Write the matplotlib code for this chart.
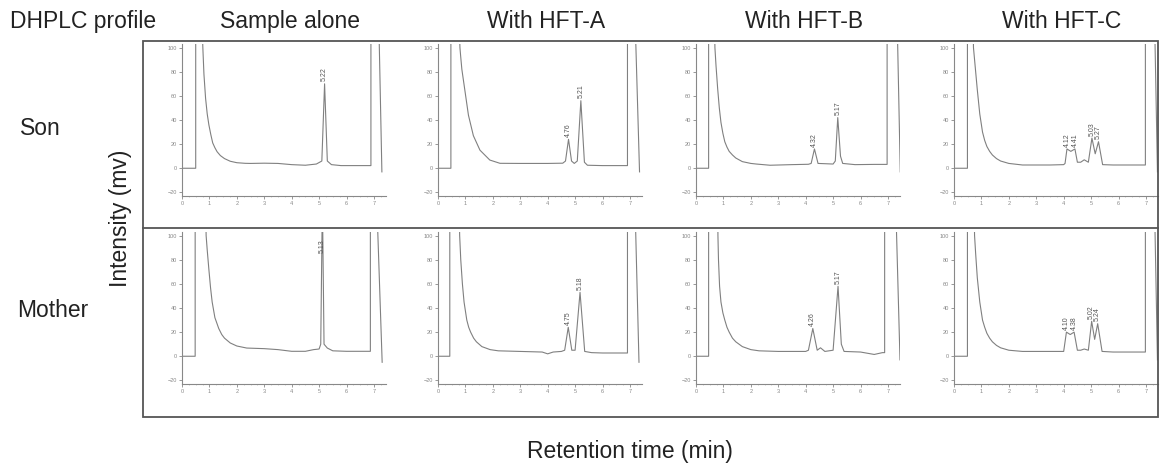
import numpy as np
import matplotlib.pyplot as plt
from matplotlib.lines import Line2D
from matplotlib.patches import Rectangle

plt.rcParams["font.family"] = ["Liberation Sans", "DejaVu Sans"]

W, H = 1164, 463

COLUMNS = ["Sample alone", "With HFT-A", "With HFT-B", "With HFT-C"]
ROWS = ["Son", "Mother"]
X_TICKS = [0, 1, 2, 3, 4, 5, 6, 7]
Y_TICKS = [-20, 0, 20, 40, 60, 80, 100]

# traces (time in min, intensity in mV); 130 = off scale
T_SON_ALONE = [0, 0.50, 0.50, 0.72, 0.76, 0.80, 0.86, 0.92, 0.98, 1.05, 1.12, 1.20,
               1.28, 1.40, 1.55, 1.76, 2.00, 2.30, 2.50, 3.00, 3.50, 4.00, 4.50,
               4.90, 5.10, 5.20, 5.30, 5.45, 5.80, 6.40, 6.89, 6.89, 7.17, 7.29]
MV_SON_ALONE = [0, 0, 130, 130, 100, 78, 58, 45, 36, 28, 21, 17,
                13.7, 10.5, 8, 5.8, 4.6, 4.1, 4.0, 4.2, 4.0, 3.0, 2.5,
                3.5, 6, 70, 6, 3, 2.2, 2.2, 2.2, 130, 130, -3]
PK_SON_ALONE = [5.20]
LB_SON_ALONE = ["5.22"]

T_SON_A = [0, 0.47, 0.47, 0.76, 0.80, 0.83, 0.87, 0.99, 1.11, 1.29, 1.53, 1.89,
           2.26, 3.0, 4.0, 4.55, 4.65, 4.76, 4.87, 4.97, 5.08, 5.21, 5.34, 5.45,
           6.0, 6.91, 6.91, 7.18, 7.35]
MV_SON_A = [0, 0, 130, 130, 100, 92, 82, 63, 44, 27, 15, 6.8,
            4.1, 4.0, 4.0, 4.2, 6, 24, 6, 4, 6, 56, 5, 2.5,
            2.2, 2.2, 130, 130, -3]
PK_SON_A = [4.76, 5.21]
LB_SON_A = ["4.76", "5.21"]

T_SON_B = [0, 0.46, 0.46, 0.67, 0.69, 0.73, 0.79, 0.85, 0.91, 0.98, 1.05, 1.13,
           1.21, 1.33, 1.45, 1.69, 2.0, 2.2, 2.7, 3.5, 4.1, 4.2, 4.32, 4.45,
           5.0, 5.08, 5.17, 5.27, 5.35, 5.8, 6.5, 6.97, 6.97, 7.33, 7.45]
MV_SON_B = [0, 0, 130, 130, 100, 85, 66, 50, 38, 29, 22, 17.5,
            14, 11, 8.5, 5.5, 4, 3.5, 2.5, 3, 3.3, 4, 16, 4,
            3.5, 6, 42, 10, 4, 3, 3.2, 3.2, 130, 130, -3]
PK_SON_B = [4.32, 5.17]
LB_SON_B = ["4.32", "5.17"]

T_SON_C = [0, 0.49, 0.49, 0.69, 0.71, 0.77, 0.85, 0.94, 1.04, 1.12, 1.20, 1.30,
           1.40, 1.55, 1.70, 2.0, 2.5, 3.5, 4.0, 4.05, 4.12, 4.26, 4.41, 4.5,
           4.62, 4.75, 4.9, 5.03, 5.15, 5.27, 5.42, 5.8, 6.98, 6.98, 7.31, 7.42]
MV_SON_C = [0, 0, 130, 130, 100, 85, 65, 45, 30, 23, 18, 14,
            11, 8, 6, 4, 2.7, 2.7, 3, 4, 16, 14, 16, 5,
            5, 7, 5, 25, 12, 22, 3, 2.7, 2.7, 130, 130, -3]
PK_SON_C = [4.12, 4.41, 5.03, 5.27]
LB_SON_C = ["4.12", "4.41", "5.03", "5.27"]

T_MOM_ALONE = [0, 0.48, 0.48, 0.86, 0.88, 0.92, 0.98, 1.04, 1.10, 1.20, 1.34, 1.45,
               1.55, 1.76, 2.0, 2.36, 3.0, 3.5, 4.0, 4.5, 4.8, 5.0, 5.06, 5.12,
               5.18, 5.3, 5.5, 6.0, 6.87, 6.87, 7.1, 7.3]
MV_MOM_ALONE = [0, 0, 130, 130, 100, 88, 72, 57, 45, 32, 23, 18,
                15, 11, 8.5, 6.8, 6.3, 5.5, 4.1, 4.1, 5.5, 6, 10, 130,
                10, 6.8, 4.5, 4.1, 4.1, 130, 130, -5]
PK_MOM_ALONE = [5.13]
LB_MOM_ALONE = ["5.13"]

T_MOM_A = [0, 0.43, 0.43, 0.77, 0.79, 0.83, 0.89, 0.95, 1.05, 1.12, 1.19, 1.30,
           1.40, 1.60, 1.90, 2.2, 3.0, 3.8, 4.0, 4.2, 4.5, 4.62, 4.75, 4.88,
           5.0, 5.18, 5.35, 5.6, 6.0, 6.91, 6.91, 7.18, 7.33]
MV_MOM_A = [0, 0, 130, 130, 100, 80, 60, 45, 30, 24, 20, 15,
            12, 8, 5.5, 4.5, 4, 3.5, 2, 3.5, 4, 5, 24, 5,
            5, 53, 4, 3, 2.7, 2.7, 130, 130, -5]
PK_MOM_A = [4.75, 5.18]
LB_MOM_A = ["4.75", "5.18"]

T_MOM_B = [0, 0.46, 0.46, 0.79, 0.80, 0.82, 0.86, 0.91, 0.98, 1.05, 1.13, 1.21,
           1.33, 1.45, 1.69, 2.0, 2.3, 3.0, 4.0, 4.1, 4.26, 4.42, 4.54, 4.7,
           5.0, 5.18, 5.3, 5.4, 6.0, 6.5, 6.8, 6.88, 6.88, 7.28, 7.44]
MV_MOM_B = [0, 0, 130, 130, 100, 80, 58, 45, 36, 30, 24, 20,
            15, 12, 8, 5.5, 4.5, 4, 4, 5, 23, 5, 7, 4,
            5, 58, 10, 4, 3.5, 1.5, 3, 3, 130, 130, -3]
PK_MOM_B = [4.26, 5.18]
LB_MOM_B = ["4.26", "5.17"]

T_MOM_C = [0, 0.49, 0.49, 0.73, 0.75, 0.79, 0.85, 0.94, 1.04, 1.12, 1.20, 1.30,
           1.40, 1.55, 1.70, 2.0, 2.5, 3.5, 4.0, 4.1, 4.24, 4.38, 4.5, 4.62,
           4.75, 4.9, 5.02, 5.13, 5.24, 5.4, 5.8, 6.98, 6.98, 7.31, 7.42]
MV_MOM_C = [0, 0, 130, 130, 100, 85, 65, 45, 30, 24, 19, 15,
            12, 9, 7, 5, 4, 4, 4, 20, 18, 20, 5, 5,
            6, 5, 29, 14, 27, 4, 3.5, 3.5, 130, 130, -3]
PK_MOM_C = [4.10, 4.38, 5.02, 5.24]
LB_MOM_C = ["4.10", "4.38", "5.02", "5.24"]

PANELS = [
    [(T_SON_ALONE, MV_SON_ALONE, PK_SON_ALONE, LB_SON_ALONE),
     (T_SON_A, MV_SON_A, PK_SON_A, LB_SON_A),
     (T_SON_B, MV_SON_B, PK_SON_B, LB_SON_B),
     (T_SON_C, MV_SON_C, PK_SON_C, LB_SON_C)],
    [(T_MOM_ALONE, MV_MOM_ALONE, PK_MOM_ALONE, LB_MOM_ALONE),
     (T_MOM_A, MV_MOM_A, PK_MOM_A, LB_MOM_A),
     (T_MOM_B, MV_MOM_B, PK_MOM_B, LB_MOM_B),
     (T_MOM_C, MV_MOM_C, PK_MOM_C, LB_MOM_C)],
]

# layout in pixels
COL_LEFT = [182, 438, 696, 954]
ROW_TOP = [44, 232]
AX_W, AX_H = 204, 152
TEXT = "#222222"
GREY = "#808080"


def px_axes(fig, left, top, width, height):
    return fig.add_axes([left / W, 1 - (top + height) / H, width / W, height / H])


def fig_xy(x, y):
    return x / W, 1 - y / H


fig = plt.figure(figsize=(W / 100, H / 100), dpi=100)

for r, row in enumerate(PANELS):
    for c, (t, mv, peaks, labels) in enumerate(row):
        ax = px_axes(fig, COL_LEFT[c], ROW_TOP[r], AX_W, AX_H)
        ax.plot(t, mv, color=GREY, lw=0.8)
        ax.set_xlim(0, 7.44)
        ax.set_ylim(-23, 103)
        ax.set_xticks(X_TICKS)
        ax.set_yticks(Y_TICKS)
        ax.set_xticks(np.arange(0, 7.5, 0.25), minor=True)
        ax.tick_params(labelsize=4, colors="#888888", length=2, width=0.6, pad=1.5)
        ax.tick_params(which="minor", length=1, width=0.4, colors="#aaaaaa")
        for side in ("top", "right"):
            ax.spines[side].set_visible(False)
        for side in ("left", "bottom"):
            ax.spines[side].set_color("#888888")
            ax.spines[side].set_linewidth(0.8)
        ax.patch.set_alpha(0)
        for pk, lb in zip(peaks, labels):
            y = min(np.interp(pk, t, mv), 84) + 2
            ax.text(pk, y, lb, rotation=90, fontsize=5, color="#555555",
                    ha="center", va="bottom")

# outer frame and row divider
x0, y0 = fig_xy(143, 417)
x1, y1 = fig_xy(1158, 41)
fig.add_artist(Rectangle((x0, y0), x1 - x0, y1 - y0, transform=fig.transFigure,
                         fill=False, ec="#555555", lw=1.3))
fig.add_artist(Line2D([x0, x1], [fig_xy(0, 228)[1]] * 2, transform=fig.transFigure,
                      color="#555555", lw=1.3))

fs = 16.5
fig.text(*fig_xy(10, 28), "DHPLC profile", fontsize=fs, color=TEXT, va="baseline")
for c, name in enumerate(COLUMNS):
    fig.text(*fig_xy(COL_LEFT[c] + AX_W / 2 + 6, 28), name, fontsize=fs,
             color=TEXT, ha="center", va="baseline")
fig.text(*fig_xy(20, 135), ROWS[0], fontsize=fs, color=TEXT, va="baseline")
fig.text(*fig_xy(17, 317), ROWS[1], fontsize=fs, color=TEXT, va="baseline")
fig.text(*fig_xy(120, 218), "Intensity (mv)", fontsize=fs, color=TEXT,
         rotation=90, ha="center", va="center")
fig.text(*fig_xy(630, 458), "Retention time (min)", fontsize=fs, color=TEXT,
         ha="center", va="baseline")

fig.savefig("out.png", dpi=100)
